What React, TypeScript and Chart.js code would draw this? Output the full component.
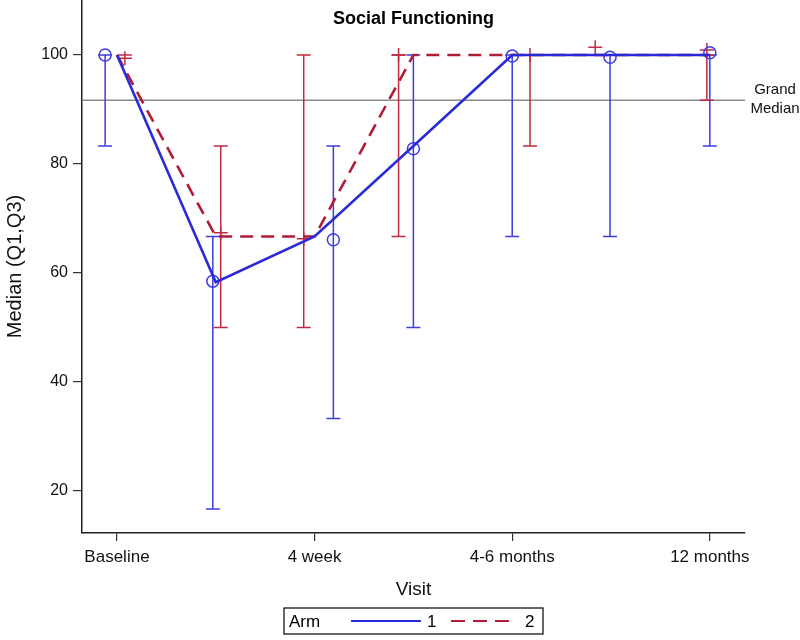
import React, { useEffect, useRef } from "react";
import { Chart, registerables } from "chart.js";

Chart.register(...registerables);

// ---- data ----
const visitPositions = [0, 1, 2, 3, 4, 5, 6];
const tickPositions = [0, 2, 4, 6];
const tickLabels = ["Baseline", "4 week", "4-6 months", "12 months"];
const yTickValues = [20, 40, 60, 80, 100];

const arm1Median = [100, 58.3, 66.7, 83.3, 100, 100, 100];
const arm2Median = [100, 66.7, 66.7, 100, 100, 100, 100];

// jittered marker/bar offsets (in visit units) and marker medians
const arm1Jitter = [-0.12, -0.03, 0.19, 0, 0, -0.01, 0];
const arm1Marker = [100, 58.5, 66.1, 82.8, 99.8, 99.6, 100.4];
const arm1Q1 = [83.3, 16.7, 33.3, 50, 66.7, 66.7, 83.3];
const arm1Q3 = [100, 66.7, 83.3, 100, 100, 100, 100];

const arm2Jitter = [0.08, 0.05, -0.11, -0.15, 0.18, -0.16, -0.03];
const arm2Marker = [99.4, 67.4, 66.3, 100, 100, 101.4, 100.9];
const arm2Q1 = [100, 50, 50, 66.7, 83.3, 100, 91.7];
const arm2Q3 = [100, 83.3, 100, 100, 100, 100, 100];

const grandMedian = 91.7;

const BLUE = "#2a2ad8";
const RED = "#b01c36";
const BLUE_BAR = "#3d3de0";
const RED_BAR = "#c02a40";
const FONT = "'Liberation Sans', Arial, sans-serif";

const extrasPlugin = {
  id: "extras",
  beforeDatasetsDraw(chart: any) {
    const { ctx, chartArea, scales } = chart;
    const xs = scales.x;
    const ys = scales.y;
    ctx.save();
    // grand median line
    ctx.strokeStyle = "#8a8a8a";
    ctx.lineWidth = 1.5;
    const gy = ys.getPixelForValue(grandMedian);
    ctx.beginPath();
    ctx.moveTo(chartArea.left, gy);
    ctx.lineTo(chartArea.right, gy);
    ctx.stroke();

    const drawBars = (jit: number[], q1: number[], q3: number[], color: string) => {
      ctx.strokeStyle = color;
      ctx.lineWidth = 1.5;
      visitPositions.forEach((v, i) => {
        const x = xs.getPixelForValue(v + jit[i]);
        const yl = ys.getPixelForValue(q1[i]);
        const yh = ys.getPixelForValue(q3[i]);
        ctx.beginPath();
        ctx.moveTo(x, yl);
        ctx.lineTo(x, yh);
        ctx.moveTo(x - 7, yl);
        ctx.lineTo(x + 7, yl);
        ctx.moveTo(x - 7, yh);
        ctx.lineTo(x + 7, yh);
        ctx.stroke();
      });
    };
    drawBars(arm1Jitter, arm1Q1, arm1Q3, BLUE_BAR);
    drawBars(arm2Jitter, arm2Q1, arm2Q3, RED_BAR);
    ctx.restore();
  },
  afterDraw(chart: any) {
    const { ctx, chartArea, scales } = chart;
    const ys = scales.y;
    ctx.save();
    // title
    ctx.fillStyle = "#000";
    ctx.font = `bold 18px ${FONT}`;
    ctx.textAlign = "center";
    ctx.textBaseline = "middle";
    ctx.fillText("Social Functioning", (chartArea.left + chartArea.right) / 2, 19);
    // grand median label
    const gy = ys.getPixelForValue(grandMedian);
    ctx.font = `15px ${FONT}`;
    ctx.fillStyle = "#111";
    ctx.fillText("Grand", chartArea.right + 30, gy - 10);
    ctx.fillText("Median", chartArea.right + 30, gy + 9);

    // legend
    const bx = 284, by = 608, bw = 259, bh = 26;
    ctx.strokeStyle = "#000";
    ctx.lineWidth = 1.2;
    ctx.strokeRect(bx, by, bw, bh);
    const my = by + bh / 2;
    ctx.font = `17px ${FONT}`;
    ctx.textAlign = "left";
    ctx.fillStyle = "#000";
    ctx.fillText("Arm", bx + 5, my + 1);
    ctx.lineWidth = 2;
    ctx.strokeStyle = BLUE;
    ctx.beginPath();
    ctx.moveTo(bx + 67, my);
    ctx.lineTo(bx + 137, my);
    ctx.stroke();
    ctx.fillText("1", bx + 143, my + 1);
    ctx.strokeStyle = RED;
    ctx.setLineDash([14, 8]);
    ctx.beginPath();
    ctx.moveTo(bx + 167, my);
    ctx.lineTo(bx + 233, my);
    ctx.stroke();
    ctx.setLineDash([]);
    ctx.fillText("2", bx + 241, my + 1);
    ctx.restore();
  },
};

export default function App() {
  const ref = useRef<HTMLCanvasElement | null>(null);
  useEffect(() => {
    if (!ref.current) return;
    const xy = (xsArr: number[], ysArr: number[]) => xsArr.map((x, i) => ({ x, y: ysArr[i] }));
    const chart = new Chart(ref.current, {
      type: "line",
      data: {
        datasets: [
          {
            label: "1",
            data: xy(visitPositions, arm1Median),
            borderColor: BLUE,
            borderWidth: 2.6,
            pointRadius: 0,
            tension: 0,
            fill: false,
          },
          {
            label: "2",
            data: xy(visitPositions, arm2Median),
            borderColor: RED,
            borderWidth: 2.6,
            borderDash: [13, 8],
            pointRadius: 0,
            tension: 0,
            fill: false,
          },
          {
            label: "1 median",
            data: xy(visitPositions.map((v, i) => v + arm1Jitter[i]), arm1Marker),
            showLine: false,
            pointStyle: "circle",
            pointRadius: 6,
            pointBorderWidth: 1.5,
            pointBorderColor: BLUE_BAR,
            pointBackgroundColor: "rgba(0,0,0,0)",
            borderColor: BLUE_BAR,
          },
          {
            label: "2 median",
            data: xy(visitPositions.map((v, i) => v + arm2Jitter[i]), arm2Marker),
            showLine: false,
            pointStyle: "cross",
            pointRadius: 7,
            pointBorderWidth: 1.5,
            pointBorderColor: RED_BAR,
            pointBackgroundColor: RED_BAR,
            borderColor: RED_BAR,
          },
        ],
      } as any,
      options: {
        responsive: false,
        animation: false,
        devicePixelRatio: 1,
        layout: { autoPadding: false, padding: { left: 0, right: 55, top: 0, bottom: 0 } },
        plugins: { legend: { display: false }, tooltip: { enabled: false }, title: { display: false } },
        scales: {
          x: {
            type: "linear",
            min: -0.354,
            max: 6.356,
            afterBuildTicks: (s: any) => {
              s.ticks = tickPositions.map((v) => ({ value: v }));
            },
            afterFit: (s: any) => {
              s.height = 107;
              s.paddingLeft = 0;
              s.paddingRight = 0;
            },
            ticks: {
              autoSkip: false,
              maxRotation: 0,
              padding: 6,
              color: "#111",
              font: { family: FONT, size: 17 },
              callback: (v: any) => {
                const i = tickPositions.indexOf(Number(v));
                return i >= 0 ? tickLabels[i] : "";
              },
            },
            grid: { display: true, drawOnChartArea: false, drawTicks: true, tickLength: 8, color: "#333", lineWidth: 1.2 },
            border: { display: true, color: "#222", width: 1.5 },
            title: {
              display: true,
              text: "Visit",
              color: "#111",
              font: { family: FONT, size: 19 },
              padding: { top: 4, bottom: 39 },
            },
          },
          y: {
            type: "linear",
            min: 12.29,
            max: 110.09,
            afterBuildTicks: (s: any) => {
              s.ticks = yTickValues.map((v) => ({ value: v }));
            },
            afterFit: (s: any) => {
              s.width = 82;
              s.paddingTop = 0;
              s.paddingBottom = 0;
            },
            ticks: { padding: 5, color: "#111", font: { family: FONT, size: 16 } },
            grid: { display: true, drawOnChartArea: false, drawTicks: true, tickLength: 9, color: "#333", lineWidth: 1.2 },
            border: { display: true, color: "#222", width: 1.5 },
            title: {
              display: true,
              text: "Median (Q1,Q3)",
              color: "#111",
              font: { family: FONT, size: 20 },
              padding: { top: 3, bottom: 4 },
            },
          },
        },
      } as any,
      plugins: [extrasPlugin],
    });
    return () => chart.destroy();
  }, []);
  return (
    <div style={{ position: "fixed", left: 0, top: 0, width: 800, height: 640, background: "#fff" }}>
      <canvas ref={ref} width={800} height={640} style={{ display: "block" }} />
    </div>
  );
}
